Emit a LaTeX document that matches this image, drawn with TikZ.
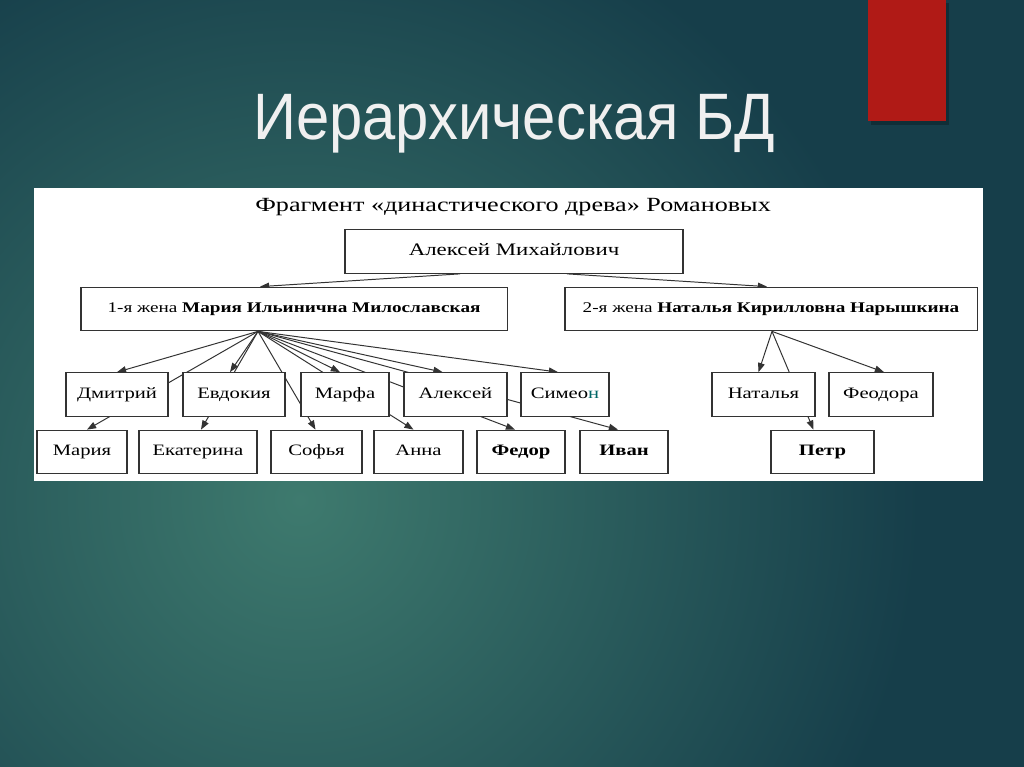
\documentclass[tikz,border=0pt]{standalone}
\usepackage{fontspec}
\setmainfont{Liberation Serif}
\newfontfamily\boxfont[FakeStretch=1.3]{Liberation Serif}
\newfontfamily\titlefont[FakeStretch=0.91]{Liberation Sans}
\usetikzlibrary{calc,arrows.meta}
\pgfdeclarelayer{bg}
\pgfdeclarelayer{edges}
\pgfsetlayers{bg,edges,main}
\definecolor{slidedark}{RGB}{22,62,74}
\definecolor{slidelight}{RGB}{62,122,110}
\definecolor{slidered}{RGB}{176,26,22}

\begin{document}
\begin{tikzpicture}[x=0.025cm,y=-0.025cm,
		box/.style={draw=black!80,fill=white,line width=0.8pt,inner sep=0pt,minimum height=1.09cm,
			text height=8pt,text depth=2.5pt,font=\boxfont\fontsize{11.3}{13}\selectfont},
		wife/.style={box,font=\boxfont\fontsize{10.5}{12}\selectfont},
		edge/.style={draw=black!80,line width=0.7pt,-{Triangle[length=6.5pt,width=4.8pt]}}
	]
	\useasboundingbox (0,0) rectangle (1024,767);
	\begin{pgfonlayer}{bg}
		\fill[slidedark] (0,0) rectangle (1024,767);
		\begin{scope}
			\clip (0,0) rectangle (1024,767);
			\shade[inner color=slidelight,outer color=slidedark] (300,500) circle (620);
		\end{scope}
		\fill[black,opacity=0.25] (871,3) rectangle (949,125);
		\fill[slidered] (868,0) rectangle (946,121);
		\fill[white] (34,188) rectangle (983,481);
	\end{pgfonlayer}
	\node[anchor=base west,inner sep=0pt,text=black!6,font=\titlefont\fontsize{46.7}{50}\selectfont] (title) at (253,140) {Иерархическая БД};
	\node[anchor=base west,inner sep=0pt,font=\boxfont\fontsize{14.3}{16}\selectfont] (head) at (255,212) {Фрагмент «династического древа» Романовых};

	\node[box,minimum width=8.45cm,font=\boxfont\fontsize{12.5}{14}\selectfont] (amih) at (514,251.5) {Алексей Михайлович};
	\node[wife,minimum width=10.65cm] (w1) at (294,309) {1-я жена \textbf{Мария Ильинична Милославская}};
	\node[wife,minimum width=10.3cm] (w2) at (771,309) {2-я жена \textbf{Наталья Кирилловна Нарышкина}};

	\node[box,minimum width=2.55cm] (dmitr) at (117,394.5) {Дмитрий};
	\node[box,minimum width=2.55cm] (evd) at (234,394.5) {Евдокия};
	\node[box,minimum width=2.2cm] (marfa) at (345,394.5) {Марфа};
	\node[box,minimum width=2.575cm] (aleks) at (455.5,394.5) {Алексей};
	\node[box,minimum width=2.2cm] (simeon) at (565,394.5) {Симео{\color{teal!80!black}н}};
	\node[box,minimum width=2.575cm] (natal) at (763.5,394.5) {Наталья};
	\node[box,minimum width=2.6cm] (feod) at (881,394.5) {Феодора};

	\node[box,minimum width=2.25cm] (maria) at (82,452) {Мария};
	\node[box,minimum width=2.95cm] (ekat) at (198,452) {Екатерина};
	\node[box,minimum width=2.275cm] (sofia) at (316.5,452) {Софья};
	\node[box,minimum width=2.225cm] (anna) at (418.5,452) {Анна};
	\node[box,minimum width=2.2cm] (fedor) at (521,452) {\textbf{Федор}};
	\node[box,minimum width=2.2cm] (ivan) at (624,452) {\textbf{Иван}};
	\node[box,minimum width=2.575cm] (petr) at (822.5,452) {\textbf{Петр}};

	\coordinate (h1) at ($(w1.south)+(-36,0)$);
	\coordinate (h2) at ($(w2.south)+(1,0)$);
	\begin{pgfonlayer}{edges}
		\draw[edge] ($(amih.south)+(-54,0)$) -- ($(w1.north)+(-34,0)$);
		\draw[edge] ($(amih.south)+(53,0)$) -- ($(w2.north)+(-4,0)$);
		\foreach \kid/\dx in {dmitr/0,maria/5,evd/-4,ekat/3,sofia/-1,marfa/-5,anna/-5,aleks/-13,fedor/-6,simeon/-7,ivan/-6}
			\draw[edge] (h1) -- ($(\kid.north)+(\dx,0)$);
		\foreach \kid/\dx in {natal/-5,feod/3,petr/-9}
			\draw[edge] (h2) -- ($(\kid.north)+(\dx,0)$);
	\end{pgfonlayer}
\end{tikzpicture}
\end{document}
